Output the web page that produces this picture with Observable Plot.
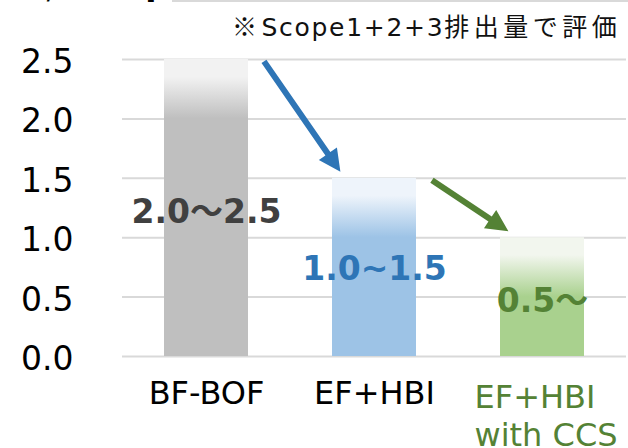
<!DOCTYPE html>
<html>
<head>
<meta charset="utf-8">
<script src="https://cdn.jsdelivr.net/npm/d3@7"></script>
<script src="https://cdn.jsdelivr.net/npm/@observablehq/plot@0.6"></script>
<style>
  html, body { margin: 0; padding: 0; background: #fff; }
  #wrap { position: relative; width: 628px; height: 448px; overflow: hidden; font-family: "DejaVu Sans", sans-serif; }
  #chart { position: absolute; left: 0; top: 0; }
  .unit { position: absolute; left: -38px; top: -24px; font-size: 28px; line-height: 28px; color: #000; white-space: nowrap; }
  .topline { position: absolute; left: 172px; top: 0; width: 456px; height: 2px; background: #d9d9d9; }
  .note { position: absolute; left: 232px; top: 13px; font-family: "Noto Sans CJK JP", sans-serif; font-size: 25px; line-height: 25px; letter-spacing: 4.5px; color: #111; white-space: nowrap; }
  .note .latin { font-family: "DejaVu Sans", sans-serif; letter-spacing: 1.7px; }
</style>
</head>
<body>
<div id="wrap">
  <div id="chart"></div>
  <div class="unit">[t-CO₂/t-steel]</div>
  <div class="topline"></div>
  <div class="note">※<span class="latin">Scope1+2+3</span>排出量で評価</div>
</div>
<script>
// CO2 intensity ranges per steelmaking route
const categories = ["BF-BOF", "EF+HBI", "EF+HBI\nwith CCS"];
const rangeLow = [2.0, 1.0, 0.5];
const rangeHigh = [2.5, 1.5, 1.0];
const rangeLabels = ["2.0〜2.5", "1.0~1.5", "0.5〜"];
const yTicks = [0, 0.5, 1.0, 1.5, 2.0, 2.5];

// styling
const barColor = ["#bfbfbf", "#9dc3e6", "#a9d18e"];
const barTop = ["#f2f2f2", "#eef4fb", "#f2f6ee"];
const valueColor = ["#404040", "#2e75b6", "#548235"];
const categoryColor = ["#000000", "#000000", "#548235"];
const labelY = [1.21, 0.73, 0.46];

const rows = categories.map((c, i) => ({
  i, category: c, low: rangeLow[i], high: rangeHigh[i], label: rangeLabels[i]
}));

// each bar is solid up to the low end of its range and fades out towards the high end
function gradients() {
  const defs = d3.create("svg:defs");
  rows.forEach(r => {
    const solidAt = (r.high - r.low) / r.high;
    const g = defs.append("linearGradient")
      .attr("id", `fade-${r.i}`)
      .attr("x1", 0).attr("y1", 0).attr("x2", 0).attr("y2", 1);
    g.append("stop").attr("offset", 0).attr("stop-color", barTop[r.i]);
    g.append("stop").attr("offset", solidAt * 0.3).attr("stop-color", barTop[r.i]);
    g.append("stop").attr("offset", solidAt).attr("stop-color", barColor[r.i]);
    g.append("stop").attr("offset", 1).attr("stop-color", barColor[r.i]);
  });
  return defs.node();
}

// arrows from the top of one bar to the top of the next
const arrows = d3.range(rows.length - 1).map(i => ({
  x1: i + 0.345, y1: rows[i].high - 0.02,
  x2: i + 0.8, y2: rows[i + 1].high + 0.05,
  color: valueColor[i + 1]
}));

function arrowMark(index, scales) {
  const g = d3.create("svg:g");
  const shaft = 3, headLen = 22, headHalf = 11;
  arrows.forEach(a => {
    const x1 = scales.x(a.x1), y1 = scales.y(a.y1);
    const x2 = scales.x(a.x2), y2 = scales.y(a.y2);
    const len = Math.hypot(x2 - x1, y2 - y1);
    const ux = (x2 - x1) / len, uy = (y2 - y1) / len;
    const nx = -uy, ny = ux;
    const bx = x2 - ux * headLen, by = y2 - uy * headLen;
    const pts = [
      [x1 + nx * shaft, y1 + ny * shaft],
      [bx + nx * shaft, by + ny * shaft],
      [bx + nx * headHalf, by + ny * headHalf],
      [x2, y2],
      [bx - nx * headHalf, by - ny * headHalf],
      [bx - nx * shaft, by - ny * shaft],
      [x1 - nx * shaft, y1 - ny * shaft]
    ];
    g.append("path")
      .attr("d", "M" + pts.map(p => p.join(",")).join("L") + "Z")
      .attr("fill", a.color);
  });
  return g.node();
}

const chart = Plot.plot({
  width: 628,
  height: 448,
  marginLeft: 122,
  marginRight: 2,
  marginTop: 59,
  marginBottom: 92,
  x: {type: "linear", domain: [-0.5, 2.5], axis: null},
  y: {domain: [0, 2.5], axis: null},
  color: {type: "identity"},
  style: {fontFamily: "'DejaVu Sans', 'Noto Sans CJK JP', sans-serif", background: "#fff", overflow: "visible"},
  marks: [
    gradients,
    Plot.ruleY(yTicks, {stroke: "#d9d9d9", strokeWidth: 2}),
    Plot.rectY(rows, {
      x1: d => d.i - 0.25, x2: d => d.i + 0.25,
      y1: 0, y2: "high",
      fill: d => `url(#fade-${d.i})`
    }),
    Plot.text(yTicks, {
      y: d => d, frameAnchor: "left", textAnchor: "end", dx: -49, dy: 3,
      text: d => d.toFixed(1), fontSize: 33, fill: "#000"
    }),
    Plot.text(rows.slice(0, 2), {
      x: "i", y: 0, text: "category", lineAnchor: "top", dy: 25,
      fontSize: 32, fill: d => categoryColor[d.i]
    }),
    Plot.text(rows.slice(2), {
      x: "i", y: 0, text: "category", lineAnchor: "top", textAnchor: "start",
      dx: -68, dy: 25, fontSize: 32, lineHeight: 1.17, fill: d => categoryColor[d.i]
    }),
    Plot.text(rows, {
      x: "i", y: d => labelY[d.i], text: "label",
      fontSize: 33, fontWeight: "bold", fill: d => valueColor[d.i]
    }),
    arrowMark
  ]
});
document.getElementById("chart").appendChild(chart);
</script>
</body>
</html>
